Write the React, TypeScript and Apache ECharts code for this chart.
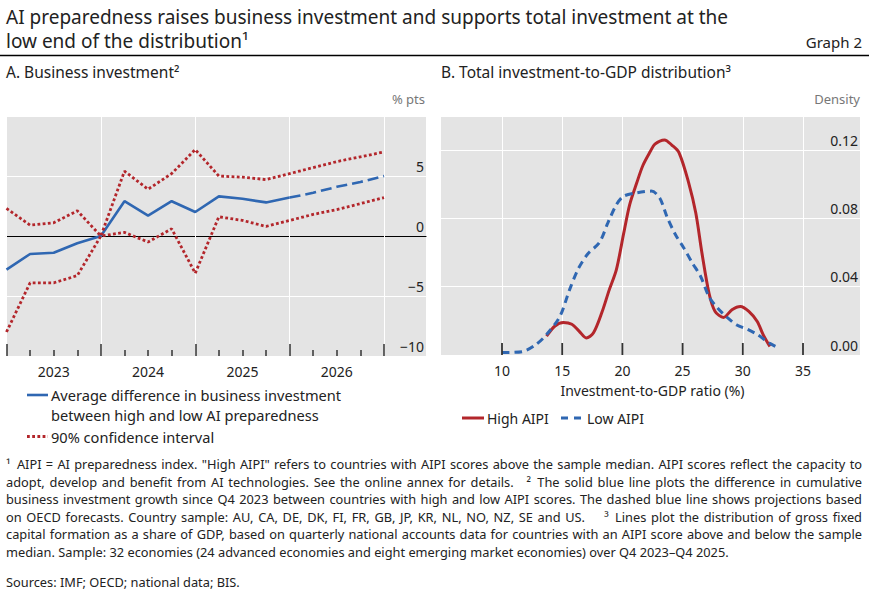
import React, { useEffect, useRef } from 'react';
import * as echarts from 'echarts';

const FONT = '"Noto Sans", "Open Sans", sans-serif';
const INK = '#222222';
const BLUE = '#2f67b2';
const RED = '#b3262b';
const PANEL_BG = '#e4e4e4';

// Panel A: quarterly, Q4 2022 .. Q4 2026 (one point per quarter)
const quarters = [
  'Q4 2022', 'Q1 2023', 'Q2 2023', 'Q3 2023', 'Q4 2023',
  'Q1 2024', 'Q2 2024', 'Q3 2024', 'Q4 2024',
  'Q1 2025', 'Q2 2025', 'Q3 2025', 'Q4 2025',
  'Q1 2026', 'Q2 2026', 'Q3 2026', 'Q4 2026',
];
const yearLabels = ['2023', '2024', '2025', '2026'];
const avgDifference = [-2.8, -1.5, -1.4, -0.6, 0, 2.9, 1.7, 2.9, 2.0, 3.3, 3.1, 2.8, 3.2];
const projectionStart = 12;
const avgProjection = [3.2, 3.6, 4.1, 4.5, 5.0];
const ciUpper = [2.3, 0.9, 1.1, 2.1, 0, 5.4, 3.9, 5.2, 7.2, 5.0, 4.9, 4.7, 5.2, 5.7, 6.2, 6.6, 7.0];
const ciLower = [-8.0, -3.9, -3.9, -3.3, 0, 0.3, -0.5, 0.6, -3.1, 1.6, 1.3, 0.8, 1.3, 1.8, 2.2, 2.7, 3.2];

// Panel B: density of investment-to-GDP ratio (%)
const ratioTicks = [10, 15, 20, 25, 30, 35];
const densityMax = 0.14;
const highRatio = [13.7, 14.4, 15.1, 15.8, 16.4, 17.0, 17.6, 18.3, 18.9, 19.5, 20.1, 20.6, 21.2, 21.7, 22.3, 22.7, 23.5, 24.1, 24.7, 25.5, 26.1, 26.6, 27.2, 27.7, 28.4, 29.1, 29.8, 30.5, 31.2, 31.7, 32.25];
const highDensity = [0.011, 0.017, 0.019, 0.018, 0.014, 0.010, 0.013, 0.025, 0.038, 0.050, 0.071, 0.088, 0.101, 0.111, 0.119, 0.1235, 0.126, 0.123, 0.1186, 0.101, 0.083, 0.060, 0.036, 0.0255, 0.022, 0.0265, 0.0284, 0.0255, 0.0196, 0.0118, 0.005];
const lowRatio = [10.0, 11.7, 12.8, 13.7, 14.8, 15.6, 16.3, 17.1, 18.1, 18.8, 19.5, 20.1, 21.2, 22.4, 23.1, 23.7, 24.4, 25.1, 25.8, 26.5, 27.2, 27.9, 28.7, 29.5, 30.4, 31.2, 32.2, 33.0];
const lowDensity = [0.0014, 0.002, 0.006, 0.012, 0.0225, 0.038, 0.050, 0.059, 0.066, 0.0775, 0.088, 0.093, 0.095, 0.096, 0.092, 0.081, 0.0706, 0.0627, 0.054, 0.046, 0.034, 0.0275, 0.022, 0.0176, 0.015, 0.012, 0.007, 0.004];

const footnoteLines = [
  '\u00b9\u2002AIPI = AI preparedness index. "High AIPI" refers to countries with AIPI scores above the sample median. AIPI scores reflect the capacity to',
  'adopt, develop and benefit from AI technologies. See the online annex for details.\u2003\u00b2\u2002The solid blue line plots the difference in cumulative',
  'business investment growth since Q4 2023 between countries with high and low AIPI scores. The dashed blue line shows projections based',
  'on OECD forecasts. Country sample: AU, CA, DE, DK, FI, FR, GB, JP, KR, NL, NO, NZ, SE and US.\u2003\u2002\u00b3\u2002Lines plot the distribution of gross fixed',
  'capital formation as a share of GDP, based on quarterly national accounts data for countries with an AIPI score above and below the sample',
  'median. Sample: 32 economies (24 advanced economies and eight emerging market economies) over Q4 2023\u2013Q4 2025.',
];
const sourcesLine = 'Sources: IMF; OECD; national data; BIS.';

const minus = (v: number, digits = 0) =>
  v < 0 ? '\u2212' + Math.abs(v).toFixed(digits) : v.toFixed(digits);

const txt = (text: string, x: number, y: number, size: number, extra: any = {}) => ({
  type: 'text',
  style: {
    text, x, y,
    fill: INK,
    fontSize: size,
    fontFamily: FONT,
    verticalAlign: 'middle',
    ...extra,
  },
});

const seg = (x1: number, y1: number, x2: number, y2: number, stroke: string, width: number, dash?: number[]) => ({
  type: 'line',
  shape: { x1, y1, x2, y2 },
  style: { stroke, lineWidth: width, lineDash: dash },
});

const App: React.FC = () => {
  const chartRef = useRef<HTMLDivElement>(null);

  useEffect(() => {
    document.body.style.margin = '0';
    if (!chartRef.current) return;
    const chart = echarts.init(chartRef.current, null, { renderer: 'svg' });

    const tickStyle = { color: '#333', width: 1.5 };
    const whiteGrid = { show: true, lineStyle: { color: '#ffffff', width: 1 } };
    const hiddenLine = { show: true, onZero: false, lineStyle: { color: 'rgba(0,0,0,0)', width: 1 } };
    const labelStyle = { color: INK, fontSize: 14, fontFamily: FONT, margin: 8 };

    const option: any = {
      animation: false,
      grid: [
        // panel A background + y labels
        { left: 6.5, top: 116, width: 419.5, height: 240, show: true, backgroundColor: PANEL_BG, borderWidth: 0 },
        // panel A plot
        { left: 6.5, top: 116, width: 377.5, height: 240 },
        // panel B background + y labels
        { left: 441, top: 116, width: 419, height: 239, show: true, backgroundColor: PANEL_BG, borderWidth: 0 },
        // panel B plot
        { left: 502, top: 116, width: 301, height: 239 },
      ],
      xAxis: [
        {
          gridIndex: 0, type: 'value', min: 0, max: 1, z: 1,
          axisLine: { show: true, onZero: true, lineStyle: { color: '#000', width: 1.2 } },
          axisTick: { show: false }, axisLabel: { show: false }, splitLine: { show: false },
        },
        {
          gridIndex: 1, type: 'value', min: 0, max: quarters.length - 1, interval: 4, z: 2,
          axisLine: hiddenLine,
          axisTick: { show: true, inside: true, length: 12, lineStyle: tickStyle },
          minorTick: { show: true, splitNumber: 4, length: 6, lineStyle: tickStyle },
          axisLabel: { show: false },
          splitLine: whiteGrid,
        },
        {
          gridIndex: 1, type: 'category', data: yearLabels, boundaryGap: true, position: 'bottom',
          axisLine: { show: false, onZero: false }, axisTick: { show: false }, splitLine: { show: false },
          axisLabel: labelStyle,
        },
        { gridIndex: 2, type: 'value', min: 0, max: 1, show: false },
        {
          gridIndex: 3, type: 'value', min: 10, max: 35, interval: 5, position: 'bottom',
          axisLine: { show: false, onZero: false },
          axisTick: { show: false },
          axisLabel: labelStyle,
          splitLine: whiteGrid,
          name: 'Investment-to-GDP ratio (%)',
          nameLocation: 'middle',
          nameGap: 28,
          nameTextStyle: { color: INK, fontSize: 14, fontFamily: FONT },
        },
      ],
      yAxis: [
        {
          gridIndex: 0, type: 'value', min: -10, max: 10, interval: 5, position: 'right',
          axisLine: { show: false }, axisTick: { show: false },
          axisLabel: {
            inside: true, margin: 2, color: INK, fontSize: 14, fontFamily: FONT,
            verticalAlign: 'bottom', lineHeight: 20,
            formatter: (v: number) => (v >= 10 ? '' : minus(v)),
          },
          splitLine: whiteGrid,
        },
        { gridIndex: 1, type: 'value', min: -10, max: 10, show: false },
        {
          gridIndex: 2, type: 'value', min: 0, max: densityMax, interval: 0.04, position: 'right',
          axisLine: { show: false }, axisTick: { show: false },
          axisLabel: {
            inside: true, margin: 2, color: INK, fontSize: 14, fontFamily: FONT,
            verticalAlign: 'bottom', lineHeight: 20,
            formatter: (v: number) => (v > 0.125 ? '' : v.toFixed(2)),
          },
          splitLine: whiteGrid,
        },
        { gridIndex: 3, type: 'value', min: 0, max: densityMax, show: false },
      ],
      series: [
        {
          name: 'Average difference in business investment between high and low AI preparedness',
          type: 'line', xAxisIndex: 1, yAxisIndex: 1, symbol: 'none',
          lineStyle: { color: BLUE, width: 2.6 },
          data: avgDifference.map((v, i) => [i, v]),
        },
        {
          name: 'Projection',
          type: 'line', xAxisIndex: 1, yAxisIndex: 1, symbol: 'none',
          lineStyle: { color: BLUE, width: 2.6, type: [11, 5] },
          data: avgProjection.map((v, i) => [projectionStart + i, v]),
        },
        {
          name: '90% confidence interval',
          type: 'line', xAxisIndex: 1, yAxisIndex: 1, symbol: 'none',
          lineStyle: { color: RED, width: 2.8, type: [2.8, 2.4] },
          data: ciUpper.map((v, i) => [i, v]),
        },
        {
          name: '90% confidence interval',
          type: 'line', xAxisIndex: 1, yAxisIndex: 1, symbol: 'none',
          lineStyle: { color: RED, width: 2.8, type: [2.8, 2.4] },
          data: ciLower.map((v, i) => [i, v]),
        },
        {
          name: 'High AIPI',
          type: 'line', xAxisIndex: 4, yAxisIndex: 3, symbol: 'none', smooth: 0.3,
          lineStyle: { color: RED, width: 3 },
          data: highRatio.map((x, i) => [x, highDensity[i]]),
        },
        {
          name: 'Low AIPI',
          type: 'line', xAxisIndex: 4, yAxisIndex: 3, symbol: 'none', smooth: 0.3,
          lineStyle: { color: BLUE, width: 3, type: [7.5, 5] },
          data: lowRatio.map((x, i) => [x, lowDensity[i]]),
        },
        {
          // x-axis tick marks of panel B: filled bars pointing up from the bottom edge
          name: 'ticks',
          type: 'custom', xAxisIndex: 4, yAxisIndex: 3, silent: true, clip: false, z: 10,
          data: ratioTicks.map((t) => [t, 0]),
          renderItem: (_params: any, api: any) => {
            const p = api.coord([api.value(0), 0]);
            return {
              type: 'rect',
              z2: 100,
              shape: { x: p[0] - 0.9, y: p[1] - 12, width: 1.8, height: 12 },
              style: { fill: '#333333' },
            };
          },
        },
      ],
      graphic: [
        txt('AI preparedness raises business investment and supports total investment at the', 6, 17, 19),
        txt('low end of the distribution\u00b9', 6, 41, 19),
        txt('Graph 2', 862, 42, 15, { align: 'right' }),
        seg(0, 55.5, 869, 55.5, '#000', 1.3),
        txt('A. Business investment\u00b2', 6, 72, 15.5),
        txt('B. Total investment-to-GDP distribution\u00b3', 441, 72, 15.5),
        txt('% pts', 425, 99, 13, { align: 'right', fill: '#777' }),
        txt('Density', 860, 99, 13, { align: 'right', fill: '#777' }),
        // panel A legend
        seg(27, 395, 48, 395, BLUE, 2.6),
        txt('Average difference in business investment', 51, 395, 14.6),
        txt('between high and low AI preparedness', 51, 415, 14.6),
        seg(27, 436.5, 48, 436.5, RED, 2.8, [2.8, 2.4]),
        txt('90% confidence interval', 51, 436.5, 14.6),
        // panel B legend
        seg(462, 418, 484, 418, RED, 3),
        txt('High AIPI', 487, 418, 14),
        seg(561, 418, 582, 418, BLUE, 3, [7, 6]),
        txt('Low AIPI', 587, 418, 14),
      ],
    };

    chart.setOption(option);
    return () => chart.dispose();
  }, []);

  return (
    <div style={{ position: 'relative', width: 869, height: 598, background: '#fff' }}>
      <div ref={chartRef} style={{ position: 'absolute', left: 0, top: 0, width: 869, height: 598 }} />
      <div
        style={{
          position: 'absolute', left: 6, top: 456, width: 856,
          fontFamily: FONT, fontSize: 12.8, lineHeight: '17.6px', color: INK,
        }}
      >
        {footnoteLines.map((line, i) => (
          <div
            key={i}
            style={{
              textAlign: i < footnoteLines.length - 1 ? 'justify' : 'left',
              textAlignLast: i < footnoteLines.length - 1 ? 'justify' : 'left',
              whiteSpace: 'pre',
            }}
          >
            {line}
          </div>
        ))}
        <div style={{ marginTop: 12 }}>{sourcesLine}</div>
      </div>
    </div>
  );
};

export default App;
